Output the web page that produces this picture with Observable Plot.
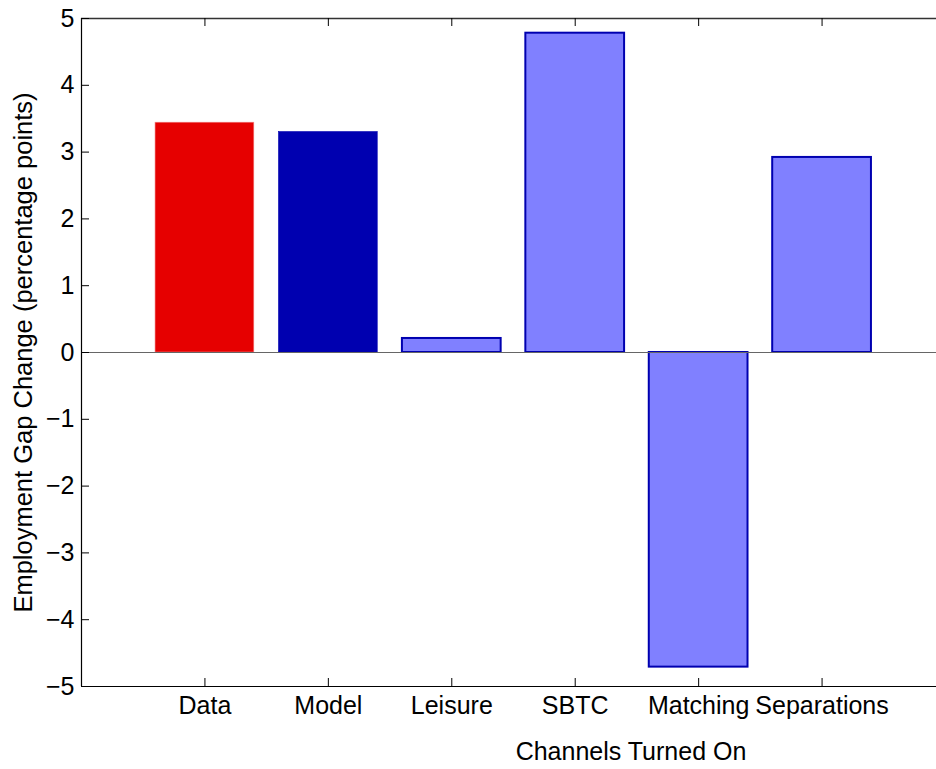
<!DOCTYPE html>
<html><head><meta charset="utf-8">
<script src="https://cdn.jsdelivr.net/npm/d3@7"></script>
<script src="https://cdn.jsdelivr.net/npm/@observablehq/plot@0.6"></script>
<style>
body{margin:0;background:#fff}
svg{font-family:"Liberation Sans",Arial,Helvetica,sans-serif}
</style>
</head><body><div id="chart"></div>
<script>
const categories = ["Data", "Model", "Leisure", "SBTC", "Matching", "Separations"];
const values = [3.44, 3.30, 0.21, 4.78, -4.71, 2.92];
const yTicks = [-5, -4, -3, -2, -1, 0, 1, 2, 3, 4, 5];
const xLabel = "Channels Turned On";
const yLabel = "Employment Gap Change (percentage points)";

const data = categories.map((name, i) => ({pos: i + 1, name, value: values[i]}));
const positions = data.map(d => d.pos);
const half = 0.4;

const xDomain = [0, 7], xRange = [81, 945];
const yDomain = [-5, 5], yRange = [686, 18];
const tickPx = 8;
// tick length expressed in data units of each scale
const tickLenX = tickPx * (xDomain[1] - xDomain[0]) / (xRange[1] - xRange[0]);
const tickLenY = tickPx * (yDomain[1] - yDomain[0]) / (yRange[0] - yRange[1]);

const barX1 = d => d.pos - half, barX2 = d => d.pos + half;
const fmtY = d => d < 0 ? "\u2212" + Math.abs(d) : String(d);

const chart = Plot.plot({
  width: 936,
  height: 769,
  marginLeft: 81,
  marginTop: 18,
  marginBottom: 83,
  marginRight: 0,
  x: {type: "linear", domain: xDomain, range: xRange},
  y: {domain: yDomain, range: yRange},
  style: {fontSize: "25px", color: "#000"},
  marks: [
    Plot.rectY(data.filter(d => d.name === "Data"), {x1: barX1, x2: barX2, y1: 0, y2: "value", fill: "#e60000", stroke: "#f27f7f", strokeWidth: 0.6}),
    Plot.rectY(data.filter(d => d.name === "Model"), {x1: barX1, x2: barX2, y1: 0, y2: "value", fill: "#0000b0", stroke: "#0000b0", strokeWidth: 0.6}),
    Plot.rectY(data.filter(d => d.name !== "Data" && d.name !== "Model"), {x1: barX1, x2: barX2, y1: 0, y2: "value", fill: "#8080ff", stroke: "#0000b0", strokeWidth: 2}),
    Plot.ruleY([0], {stroke: "#666", strokeWidth: 1}),
    Plot.ruleX([xDomain[0]], {stroke: "#000", strokeWidth: 1.2}),
    Plot.ruleY([yDomain[0]], {stroke: "#000", strokeWidth: 1.2}),
    Plot.ruleY([yDomain[1]], {stroke: "#333", strokeWidth: 1.5}),
    // inward tick marks
    Plot.ruleY(yTicks, {x1: xDomain[0], x2: xDomain[0] + tickLenX, stroke: "#000", strokeWidth: 1}),
    Plot.ruleX(positions, {y1: yDomain[0], y2: yDomain[0] + tickLenY, stroke: "#000", strokeWidth: 1}),
    Plot.ruleX(positions, {y1: yDomain[1], y2: yDomain[1] - tickLenY, stroke: "#000", strokeWidth: 1}),
    // tick labels
    Plot.axisY(yTicks, {anchor: "left", tickSize: 0, tickPadding: 7, fontSize: 25, label: null, tickFormat: fmtY}),
    Plot.axisX(positions, {anchor: "bottom", tickSize: 0, tickPadding: 10, fontSize: 25, label: null, tickFormat: d => categories[d - 1]}),
    // axis titles
    Plot.text([yLabel], {frameAnchor: "left", dx: -58, rotate: -90, fontSize: 25.5, textAnchor: "middle", lineAnchor: "middle", fill: "#000"}),
    Plot.text([xLabel], {frameAnchor: "bottom", dx: 122, dy: 73, fontSize: 25, textAnchor: "middle", lineAnchor: "bottom", fill: "#000"})
  ]
});
document.getElementById("chart").appendChild(chart);
</script>
</body></html>
